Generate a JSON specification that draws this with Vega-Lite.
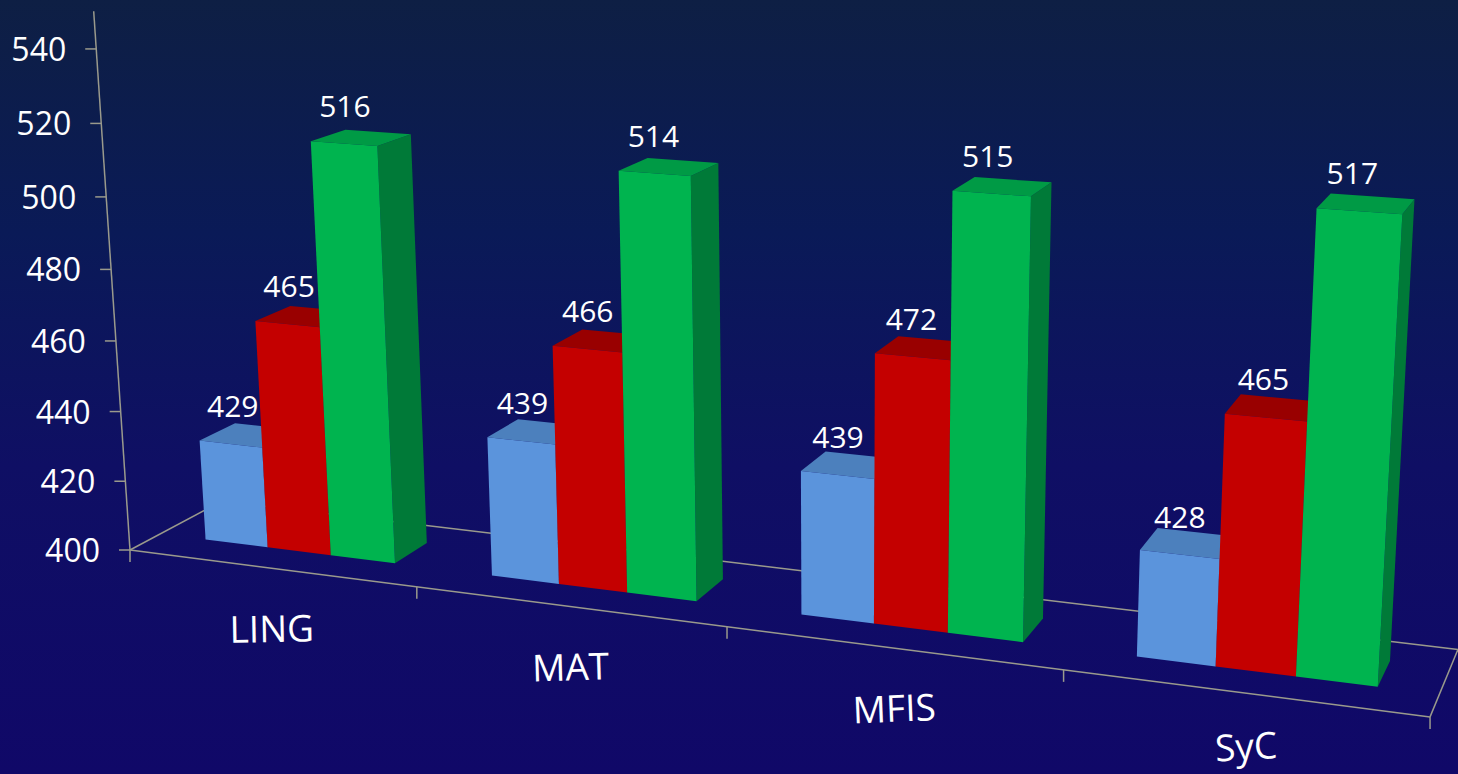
{"$schema":"https://vega.github.io/schema/vega-lite/v6.json","width":1458,"height":774,"padding":0,"autosize":{"type":"none"},"background":"#100868","config":{"view":{"stroke":null},"font":"Open Sans"},
"datasets":{
"bars":[{"category":"LING","series":"Serie 1","value":429},{"category":"LING","series":"Serie 2","value":465},{"category":"LING","series":"Serie 3","value":516},{"category":"MAT","series":"Serie 1","value":439},{"category":"MAT","series":"Serie 2","value":466},{"category":"MAT","series":"Serie 3","value":514},{"category":"MFIS","series":"Serie 1","value":439},{"category":"MFIS","series":"Serie 2","value":472},{"category":"MFIS","series":"Serie 3","value":515},{"category":"SyC","series":"Serie 1","value":428},{"category":"SyC","series":"Serie 2","value":465},{"category":"SyC","series":"Serie 3","value":517}],
"cats":[{"category":"LING"},{"category":"MAT"},{"category":"MFIS"},{"category":"SyC"}],
"ticks":[{"tick":400},{"tick":420},{"tick":440},{"tick":460},{"tick":480},{"tick":500},{"tick":520},{"tick":540}],
"bounds":[{"boundary":0},{"boundary":1},{"boundary":2},{"boundary":3},{"boundary":4}],
"edges":[{"edge":"front"},{"edge":"back"},{"edge":"leftDepth"},{"edge":"rightDepth"},{"edge":"wall"}]},
"layer":[
{"data":{"values":[{}]},"mark":{"type":"rect","fill":{"gradient":"linear","x1":0,"y1":0,"x2":0,"y2":1,"stops":[{"offset":0,"color":"#0e1f44"},{"offset":0.3,"color":"#0a1a57"},{"offset":0.6,"color":"#0f0f64"},{"offset":1,"color":"#100868"}]}},"encoding":{"x":{"datum":0,"type":"quantitative","scale":{"domain":[0,1458],"nice":false},"axis":null},"x2":{"datum":1458},"y":{"datum":0,"type":"quantitative","scale":{"domain":[774,0],"nice":false},"axis":null},"y2":{"datum":774}}},
{"data":{"name":"edges"},"transform":[
{"calculate":"datum.edge=='rightDepth'?4:0","as":"X0"},{"calculate":"datum.edge=='back'?1:0","as":"Y0"},
{"calculate":"(datum.edge=='leftDepth'||datum.edge=='wall')?0:4","as":"X1"},{"calculate":"(datum.edge=='front'||datum.edge=='wall')?0:1","as":"Y1"},{"calculate":"datum.edge=='wall'?7.5:0","as":"Z1"},
{"calculate":"1-0.0377*datum.X0+0.0553*datum.Y0","as":"w0"},{"calculate":"1-0.0377*datum.X1+0.0553*datum.Y1-0.0065*datum.Z1","as":"w1"},
{"calculate":"(130+271.1*datum.X0+104.3*datum.Y0)/datum.w0","as":"sx0"},{"calculate":"(550+14.7*datum.X0-21.3*datum.Y0)/datum.w0","as":"sy0"},
{"calculate":"(130+271.1*datum.X1+104.3*datum.Y1-5.45*datum.Z1)/datum.w1","as":"sx1"},{"calculate":"(550+14.7*datum.X1-21.3*datum.Y1-71.9*datum.Z1)/datum.w1","as":"sy1"}],
"mark":{"type":"rule","stroke":"#9a9a8c","strokeWidth":1.5},"encoding":{"x":{"field":"sx0","type":"quantitative","axis":null,"scale":{"domain":[0,1458],"nice":false}},"y":{"field":"sy0","type":"quantitative","axis":null,"scale":{"domain":[774,0],"nice":false}},"x2":{"field":"sx1"},"y2":{"field":"sy1"}}},
{"data":{"name":"bounds"},"transform":[{"calculate":"1-0.0377*datum.boundary","as":"w"},{"calculate":"(130+271.1*datum.boundary)/datum.w","as":"sx"},{"calculate":"(550+14.7*datum.boundary)/datum.w","as":"sy"},{"calculate":"datum.sy+12","as":"sy2"}],
"mark":{"type":"rule","stroke":"#9a9a8c","strokeWidth":1.5},"encoding":{"x":{"field":"sx","type":"quantitative","axis":null,"scale":{"domain":[0,1458],"nice":false}},"y":{"field":"sy","type":"quantitative","axis":null,"scale":{"domain":[774,0],"nice":false}},"y2":{"field":"sy2"}}},
{"data":{"name":"ticks"},"transform":[{"calculate":"(datum.tick-400)/20","as":"Z"},{"calculate":"1-0.0065*datum.Z","as":"w"},{"calculate":"(130-5.45*datum.Z)/datum.w","as":"sx"},{"calculate":"(550-71.9*datum.Z)/datum.w","as":"sy"},{"calculate":"datum.sx-11","as":"sx2"}],
"mark":{"type":"rule","stroke":"#9a9a8c","strokeWidth":1.5},"encoding":{"x":{"field":"sx","type":"quantitative","axis":null,"scale":{"domain":[0,1458],"nice":false}},"x2":{"field":"sx2"},"y":{"field":"sy","type":"quantitative","axis":null,"scale":{"domain":[774,0],"nice":false}}}},
{"data":{"name":"ticks"},"transform":[{"calculate":"(datum.tick-400)/20","as":"Z"},{"calculate":"1-0.0065*datum.Z","as":"w"},{"calculate":"(130-5.45*datum.Z)/datum.w","as":"sx"},{"calculate":"(550-71.9*datum.Z)/datum.w","as":"sy"}],
"mark":{"type":"text","align":"right","baseline":"middle","dx":-30,"dy":2,"fontSize":32,"fill":"#ffffff","font":"Open Sans"},"encoding":{"x":{"field":"sx","type":"quantitative","axis":null,"scale":{"domain":[0,1458],"nice":false}},"y":{"field":"sy","type":"quantitative","axis":null,"scale":{"domain":[774,0],"nice":false}},"text":{"field":"tick","type":"quantitative"}}},
{"data":{"name":"bars"},"transform":[
{"calculate":"indexof(['LING','MAT','MFIS','SyC'],datum.category)+0.165+0.2233*indexof(['Serie 1','Serie 2','Serie 3'],datum.series)","as":"x0"},{"calculate":"datum.x0+0.2233","as":"x1"},{"calculate":"(datum.value-400)/20","as":"z"},
{"calculate":"[0,1,2,3]","as":"corner"},{"flatten":["corner"]},
{"calculate":"datum.x1","as":"PX"},{"calculate":"(datum.corner==1||datum.corner==2)?0.707:0.318","as":"PY"},{"calculate":"datum.corner<2?0:datum.z","as":"PZ"},
{"calculate":"1-0.0377*datum.PX+0.0553*datum.PY-0.0065*datum.PZ","as":"w"},{"calculate":"(130+271.1*datum.PX+104.3*datum.PY-5.45*datum.PZ)/datum.w","as":"sx"},{"calculate":"(550+14.7*datum.PX-21.3*datum.PY-71.9*datum.PZ)/datum.w","as":"sy"},{"calculate":"datum.category+datum.series","as":"bar"}],
"mark":{"type":"line","stroke":null,"filled":true,"strokeWidth":0},"encoding":{"x":{"field":"sx","type":"quantitative","axis":null,"scale":{"domain":[0,1458],"nice":false}},"y":{"field":"sy","type":"quantitative","axis":null,"scale":{"domain":[774,0],"nice":false}},"order":{"field":"corner"},"detail":{"field":"bar"},"fill":{"field":"series","legend":null,"scale":{"domain":["Serie 1","Serie 2","Serie 3"],"range":["#4878b8","#8f0000","#007a38"]}}}},
{"data":{"name":"bars"},"transform":[
{"calculate":"indexof(['LING','MAT','MFIS','SyC'],datum.category)+0.165+0.2233*indexof(['Serie 1','Serie 2','Serie 3'],datum.series)","as":"x0"},{"calculate":"datum.x0+0.2233","as":"x1"},{"calculate":"(datum.value-400)/20","as":"z"},
{"calculate":"[0,1,2,3]","as":"corner"},{"flatten":["corner"]},
{"calculate":"(datum.corner==0||datum.corner==3)?datum.x0:datum.x1","as":"PX"},{"calculate":"datum.corner<2?0.318:0.707","as":"PY"},{"calculate":"datum.z","as":"PZ"},
{"calculate":"1-0.0377*datum.PX+0.0553*datum.PY-0.0065*datum.PZ","as":"w"},{"calculate":"(130+271.1*datum.PX+104.3*datum.PY-5.45*datum.PZ)/datum.w","as":"sx"},{"calculate":"(550+14.7*datum.PX-21.3*datum.PY-71.9*datum.PZ)/datum.w","as":"sy"},{"calculate":"datum.category+datum.series","as":"bar"}],
"mark":{"type":"line","stroke":null,"filled":true,"strokeWidth":0},"encoding":{"x":{"field":"sx","type":"quantitative","axis":null,"scale":{"domain":[0,1458],"nice":false}},"y":{"field":"sy","type":"quantitative","axis":null,"scale":{"domain":[774,0],"nice":false}},"order":{"field":"corner"},"detail":{"field":"bar"},"fill":{"field":"series","legend":null,"scale":{"domain":["Serie 1","Serie 2","Serie 3"],"range":["#4c80bd","#990000","#009a45"]}}}},
{"data":{"name":"bars"},"transform":[
{"calculate":"indexof(['LING','MAT','MFIS','SyC'],datum.category)+0.165+0.2233*indexof(['Serie 1','Serie 2','Serie 3'],datum.series)","as":"x0"},{"calculate":"datum.x0+0.2233","as":"x1"},{"calculate":"(datum.value-400)/20","as":"z"},
{"calculate":"[0,1,2,3]","as":"corner"},{"flatten":["corner"]},
{"calculate":"(datum.corner==0||datum.corner==3)?datum.x0:datum.x1","as":"PX"},{"calculate":"0.318","as":"PY"},{"calculate":"datum.corner<2?0:datum.z","as":"PZ"},
{"calculate":"1-0.0377*datum.PX+0.0553*datum.PY-0.0065*datum.PZ","as":"w"},{"calculate":"(130+271.1*datum.PX+104.3*datum.PY-5.45*datum.PZ)/datum.w","as":"sx"},{"calculate":"(550+14.7*datum.PX-21.3*datum.PY-71.9*datum.PZ)/datum.w","as":"sy"},{"calculate":"datum.category+datum.series","as":"bar"}],
"mark":{"type":"line","stroke":null,"filled":true,"strokeWidth":0},"encoding":{"x":{"field":"sx","type":"quantitative","axis":null,"scale":{"domain":[0,1458],"nice":false}},"y":{"field":"sy","type":"quantitative","axis":null,"scale":{"domain":[774,0],"nice":false}},"order":{"field":"corner"},"detail":{"field":"bar"},"fill":{"field":"series","legend":null,"scale":{"domain":["Serie 1","Serie 2","Serie 3"],"range":["#5b94dc","#c40000","#00b44f"]}}}},
{"data":{"name":"bars"},"transform":[
{"calculate":"indexof(['LING','MAT','MFIS','SyC'],datum.category)+0.165+0.2233*indexof(['Serie 1','Serie 2','Serie 3'],datum.series)+0.11165","as":"PX"},{"calculate":"(datum.value-400)/20","as":"PZ"},
{"calculate":"1-0.0377*datum.PX+0.0553*0.318-0.0054*datum.PZ","as":"w"},{"calculate":"(130+271.1*datum.PX+104.3*0.318-5.24*datum.PZ)/datum.w","as":"sx"},{"calculate":"(550+14.7*datum.PX-21.3*0.318-71.83*datum.PZ)/datum.w","as":"sy"}],
"mark":{"type":"text","align":"center","baseline":"middle","dx":2,"dy":-35,"fontSize":30,"fill":"#ffffff","font":"Open Sans"},"encoding":{"x":{"field":"sx","type":"quantitative","axis":null,"scale":{"domain":[0,1458],"nice":false}},"y":{"field":"sy","type":"quantitative","axis":null,"scale":{"domain":[774,0],"nice":false}},"text":{"field":"value","type":"quantitative"}}},
{"data":{"name":"cats"},"transform":[
{"calculate":"indexof(['LING','MAT','MFIS','SyC'],datum.category)+0.5","as":"PX"},{"calculate":"1-0.0377*datum.PX","as":"w"},{"calculate":"(130+271.1*datum.PX)/datum.w","as":"sx"},{"calculate":"(550+14.7*datum.PX)/datum.w+(datum.category=='SyC'?-7:0)","as":"sy"}],
"mark":{"type":"text","align":"center","baseline":"middle","dy":63,"fontSize":37,"fill":"#ffffff","font":"Open Sans"},"encoding":{"x":{"field":"sx","type":"quantitative","axis":null,"scale":{"domain":[0,1458],"nice":false}},"y":{"field":"sy","type":"quantitative","axis":null,"scale":{"domain":[774,0],"nice":false}},"text":{"field":"category","type":"nominal"},"angle":{"field":"category","type":"nominal","legend":null,"scale":{"domain":["LING","MAT","MFIS","SyC"],"range":[359,357,0,358]}}}}
],
"resolve":{"scale":{"fill":"independent"}}}
